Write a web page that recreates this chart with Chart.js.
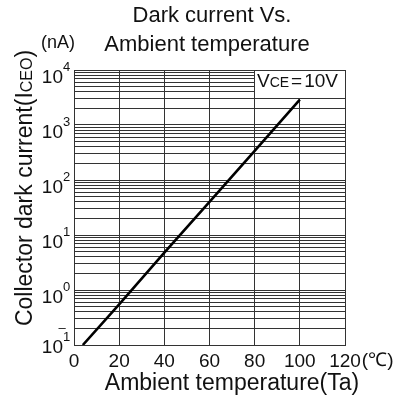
<!DOCTYPE html>
<html>
<head>
<meta charset="utf-8">
<script src="https://cdn.jsdelivr.net/npm/chart.js@4.4.0/dist/chart.umd.min.js"></script>
<style>
  html, body { margin: 0; padding: 0; background: #fff; }
</style>
</head>
<body>
<canvas id="darkChart" width="411" height="406"></canvas>
<script>
// Collector dark current (nA) against ambient temperature (°C), VCE = 10V
const temperatures = [3.9, 20, 40, 60, 80, 100];
const darkCurrent = [0.1, 0.55, 4.8, 40, 340, 2900];

// Axis ticks
const tempTicks = [0, 20, 40, 60, 80, 100, 120];
const decadeExponents = [-1, 0, 1, 2, 3, 4];
const decadeSteps = [1, 2, 3, 4, 5, 6, 7, 8, 9];

const FONT = "'Liberation Sans', Arial, sans-serif";
const INK = '#111';
const GRID = '#333';

// Draws titles, superscript tick labels and the VCE note
const annotate = {
    id: 'annotate',
    beforeDatasetsDraw(chart) {
        // white box behind the VCE note in the top right corner
        const { ctx, scales: { x, y } } = chart;
        const left = Math.floor(x.getPixelForValue(80)) + 1;
        const right = Math.floor(x.getPixelForValue(120));
        const top = Math.floor(y.getPixelForValue(10000)) + 1;
        const bottom = Math.floor(y.getPixelForValue(3000));
        ctx.save();
        ctx.fillStyle = '#fff';
        ctx.fillRect(left, top, right - left, bottom - top);
        ctx.restore();
    },
    afterDraw(chart) {
        const { ctx, scales: { x, y } } = chart;
        ctx.save();
        ctx.fillStyle = INK;
        ctx.textBaseline = 'alphabetic';

        // chart title
        ctx.font = `22px ${FONT}`;
        ctx.textAlign = 'center';
        ctx.fillText('Dark current Vs.', 212, 22);
        ctx.fillText('Ambient temperature', 207, 51);

        // unit above the y axis
        ctx.font = `18px ${FONT}`;
        ctx.fillText('(nA)', 58, 48);

        // y tick labels as powers of ten
        decadeExponents.forEach(e => {
            const py = y.getPixelForValue(Math.pow(10, e));
            // lowest label sits a little higher, clear of the x labels
            const shift = e === decadeExponents[0] ? -5 : 0;
            ctx.font = `19px ${FONT}`;
            ctx.textAlign = 'right';
            ctx.fillText('10', 63, py + 13 + shift);
            ctx.font = `13px ${FONT}`;
            ctx.textAlign = 'left';
            if (e < 0) {
                ctx.fillText(String(-e), 63, py + 1 + shift);
                ctx.textAlign = 'center';
                ctx.fillText('\u2013', 62, py - 8 + shift);
            } else {
                ctx.fillText(String(e), 63, py + 1 + shift);
            }
        });

        // degree unit after the last x tick
        ctx.font = `19px ${FONT}`;
        ctx.textAlign = 'left';
        const lastX = x.getPixelForValue(tempTicks[tempTicks.length - 1]);
        const halfW = ctx.measureText(String(tempTicks[tempTicks.length - 1])).width / 2;
        ctx.fillText('(\u2103)', lastX + halfW + 1, 366);

        // x axis title
        ctx.font = `23px ${FONT}`;
        ctx.textAlign = 'center';
        ctx.fillText('Ambient temperature(Ta)', 232, 390);

        // y axis title, rotated, with small-cap subscript
        ctx.save();
        ctx.translate(32, 188);
        ctx.rotate(-Math.PI / 2);
        const main = 'Collector dark current(I';
        const sub = 'CEO';
        ctx.font = `23px ${FONT}`;
        const wMain = ctx.measureText(main).width;
        const wClose = ctx.measureText(')').width;
        ctx.font = `16px ${FONT}`;
        const wSub = ctx.measureText(sub).width;
        let tx = -(wMain + wSub + wClose) / 2;
        ctx.textAlign = 'left';
        ctx.font = `23px ${FONT}`;
        ctx.fillText(main, tx, 0);
        tx += wMain;
        ctx.font = `16px ${FONT}`;
        ctx.fillText(sub, tx, 0);
        tx += wSub;
        ctx.font = `23px ${FONT}`;
        ctx.fillText(')', tx, 0);
        ctx.restore();

        // VCE note
        let vx = 257;
        const vy = 87;
        ctx.textAlign = 'left';
        ctx.font = `19px ${FONT}`;
        ctx.fillText('V', vx, vy);
        vx += ctx.measureText('V').width;
        ctx.font = `14px ${FONT}`;
        ctx.fillText('CE', vx, vy);
        vx += ctx.measureText('CE').width + 2;
        ctx.font = `19px ${FONT}`;
        ctx.fillText('=', vx, vy);
        vx += ctx.measureText('=').width + 2;
        ctx.fillText('10V', vx, vy);

        ctx.restore();
    }
};

const ctx = document.getElementById('darkChart').getContext('2d');
const darkChart = new Chart(ctx, {
    type: 'line',
    data: {
        datasets: [{
            label: 'ICEO',
            data: temperatures.map((t, i) => ({ x: t, y: darkCurrent[i] })),
            borderColor: '#000',
            borderWidth: 2.6,
            pointRadius: 0,
            tension: 0,
            fill: false
        }]
    },
    options: {
        responsive: false,
        animation: false,
        layout: { padding: { top: 70, right: 66, bottom: 0, left: 0 } },
        plugins: {
            legend: { display: false },
            tooltip: { enabled: false }
        },
        scales: {
            x: {
                type: 'linear',
                min: tempTicks[0],
                max: tempTicks[tempTicks.length - 1],
                afterBuildTicks: scale => {
                    scale.ticks = tempTicks.map(v => ({ value: v }));
                },
                afterFit: scale => { scale.height = 61; },
                grid: { color: GRID, lineWidth: 1, drawTicks: false },
                border: { color: GRID, width: 1 },
                ticks: {
                    color: INK,
                    padding: 5,
                    maxRotation: 0,
                    autoSkip: false,
                    font: { family: FONT, size: 19 }
                }
            },
            y: {
                type: 'logarithmic',
                min: Math.pow(10, decadeExponents[0]),
                max: Math.pow(10, decadeExponents[decadeExponents.length - 1]),
                afterBuildTicks: scale => {
                    const ticks = [];
                    decadeExponents.slice(0, -1).forEach(e => {
                        decadeSteps.forEach(m => ticks.push({ value: m * Math.pow(10, e) }));
                    });
                    ticks.push({ value: Math.pow(10, decadeExponents[decadeExponents.length - 1]) });
                    scale.ticks = ticks;
                },
                afterFit: scale => { scale.width = 74; },
                grid: { color: GRID, lineWidth: 1, drawTicks: false },
                border: { color: GRID, width: 1 },
                ticks: { display: false }
            }
        }
    },
    plugins: [annotate]
});
</script>
</body>
</html>
